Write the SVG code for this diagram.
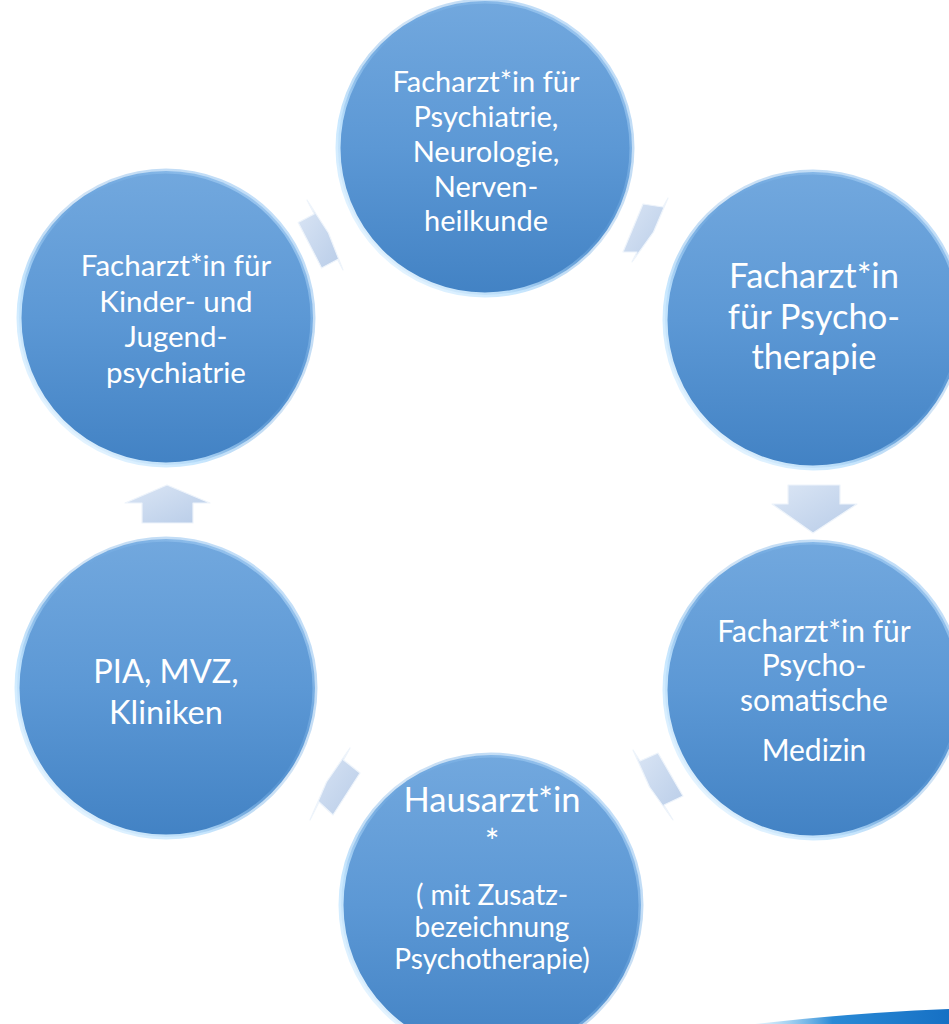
<svg xmlns="http://www.w3.org/2000/svg" width="949" height="1024" viewBox="0 0 949 1024">
<defs>
<linearGradient id="cg" x1="0" y1="0" x2="0" y2="1">
<stop offset="0" stop-color="#72a8de"/>
<stop offset="0.5" stop-color="#5c98d5"/>
<stop offset="1" stop-color="#4282c4"/>
</linearGradient>
<linearGradient id="rim" x1="0" y1="1" x2="1" y2="0">
<stop offset="0" stop-color="#ffffff" stop-opacity="1"/>
<stop offset="0.3" stop-color="#c4e6ff" stop-opacity="0.9"/>
<stop offset="0.55" stop-color="#6aa6e0" stop-opacity="0.3"/>
<stop offset="0.85" stop-color="#a8d0f5" stop-opacity="0.7"/>
<stop offset="1" stop-color="#e4f3ff" stop-opacity="0.9"/>
</linearGradient>
<linearGradient id="ag" x1="0" y1="0" x2="1" y2="1">
<stop offset="0" stop-color="#dbe6f5"/>
<stop offset="1" stop-color="#b8cce8"/>
</linearGradient>
<linearGradient id="sw" x1="0" y1="0" x2="1" y2="0">
<stop offset="0" stop-color="#7cc4f0" stop-opacity="0.2"/>
<stop offset="0.4" stop-color="#2a8ad6"/>
<stop offset="1" stop-color="#1670c4"/>
</linearGradient>
<style>
.node{fill:url(#cg);stroke:url(#rim);stroke-width:5}
.t{font-family:Lato,"Liberation Sans",sans-serif;fill:#ffffff;text-anchor:middle}
.s28{font-size:28px}.s29{font-size:29px}.s295{font-size:29.5px}.s30{font-size:30px}.s32{font-size:32.5px}.s34{font-size:34.5px}
.arr{fill:url(#ag);stroke:#eef4fb;stroke-width:1.2;stroke-linejoin:round}
</style>
</defs>
<rect width="949" height="1024" fill="#ffffff"/>
<path d="M 755 1024 Q 850 1013 949 1009 L 949 1024 Z" fill="url(#sw)"/>
<g id="connectors">
<polygon class="arr" points="307,200 328.5,233 343,270 337.6,259.5 321.6,268 298.2,222.5 314.2,214"/>
<polygon class="arr" points="668,198 663,207 643,204 623,252 637,252 632,262 653.5,232"/>
<polygon class="arr" points="788,485 840,485 840,504 857,504 813,533 772,504 788,504"/>
<polygon class="arr" points="633,750 640,761 658,753 683,796 664,805 673,820 649.5,787"/>
<polygon class="arr" points="350,748 343.5,760 360,773 333,815 319,802 310,820 326.5,782"/>
<polygon class="arr" points="167,485 210,503 193,503 193,523 142,523 142,503 125,503"/>
</g>
<g id="node-psychiatrie">
<circle class="node" cx="485" cy="148" r="147"/>
<text class="t s29" x="486" y="92">Facharzt*in für</text>
<text class="t s29" x="486" y="127">Psychiatrie,</text>
<text class="t s29" x="486" y="162">Neurologie,</text>
<text class="t s29" x="486" y="197">Nerven-</text>
<text class="t s29" x="486" y="231">heilkunde</text>
</g>
<g id="node-psychotherapie">
<circle class="node" cx="813" cy="320" r="148"/>
<text class="t s34" x="814" y="288">Facharzt*in</text>
<text class="t s34" x="814" y="329">für Psycho-</text>
<text class="t s34" x="814" y="369">therapie</text>
</g>
<g id="node-psychosomatik">
<circle class="node" cx="813" cy="690" r="148"/>
<text class="t s30" x="814" y="642">Facharzt*in für</text>
<text class="t s30" x="814" y="676">Psycho-</text>
<text class="t s30" x="814" y="711">somatische</text>
<text class="t s30" x="814" y="761">Medizin</text>
</g>
<g id="node-hausarzt">
<circle class="node" cx="491" cy="905" r="150"/>
<text class="t s34" x="492" y="812">Hausarzt*in</text>
<text class="t s34" x="492" y="854">*</text>
<text class="t s28" x="492" y="905">( mit Zusatz-</text>
<text class="t s28" x="492" y="937">bezeichnung</text>
<text class="t s28" x="492" y="969">Psychotherapie)</text>
</g>
<g id="node-kliniken">
<circle class="node" cx="166" cy="688" r="149"/>
<text class="t s32" x="166" y="683">PIA, MVZ,</text>
<text class="t s32" x="166" y="724">Kliniken</text>
</g>
<g id="node-kjp">
<circle class="node" cx="166" cy="318" r="147"/>
<text class="t s295" x="176" y="276">Facharzt*in für</text>
<text class="t s295" x="176" y="311.5">Kinder- und</text>
<text class="t s295" x="176" y="347">Jugend-</text>
<text class="t s295" x="176" y="382.5">psychiatrie</text>
</g>
</svg>
